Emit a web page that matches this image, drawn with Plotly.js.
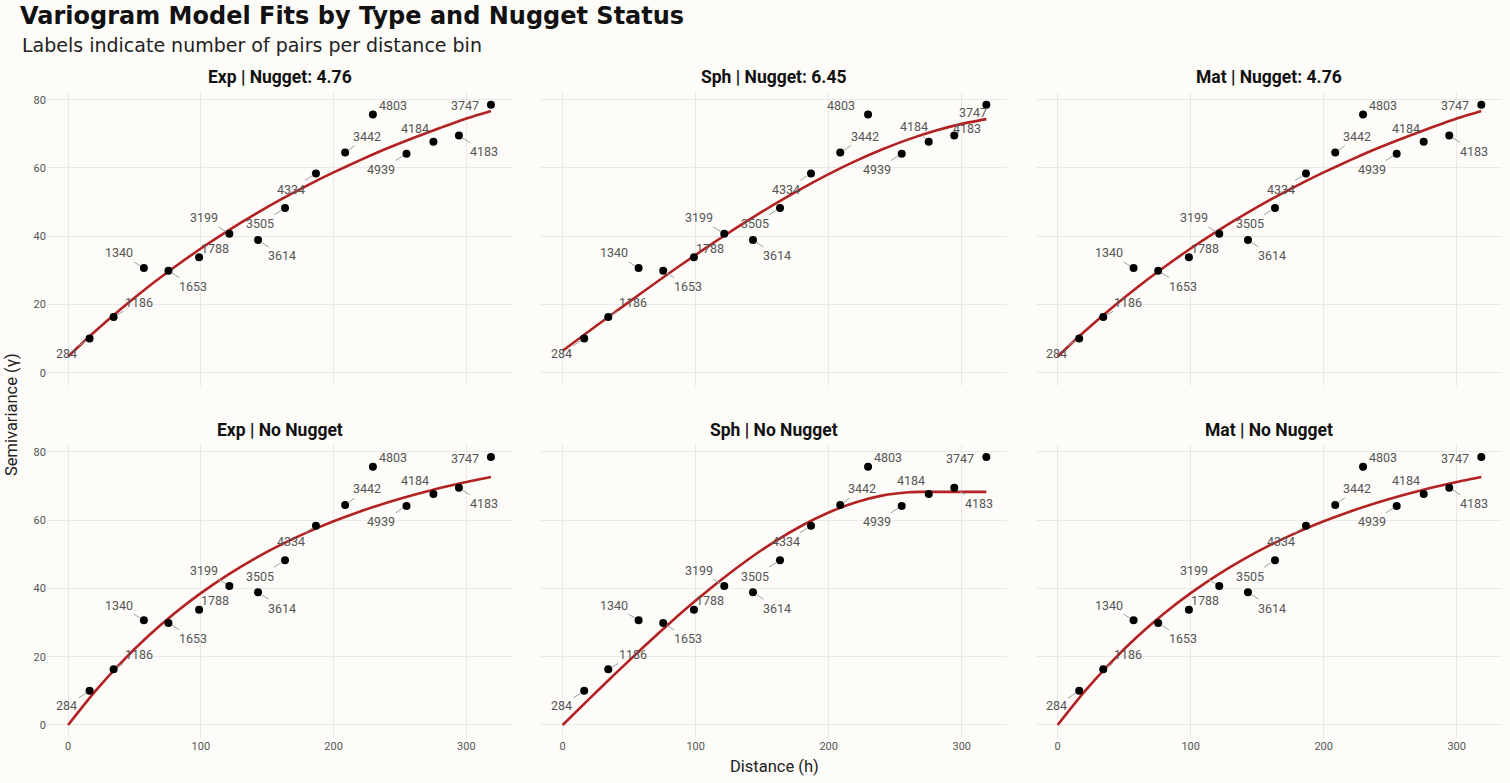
<!DOCTYPE html>
<html>
<head>
<meta charset="utf-8">
<script src="https://cdn.plot.ly/plotly-3.0.1.min.js"></script>
<style>
  html, body { margin: 0; padding: 0; background: #fdfcf9; }
  #chart { width: 1510px; height: 783px; }
</style>
</head>
<body>
<div id="chart"></div>
<script>
// ---- Empirical variogram (same in every panel) ----
const distance = [16.2, 34.3, 57.1, 75.6, 98.7, 121.5, 143.1, 163.4, 186.7, 208.7, 229.6, 254.9, 275.2, 294.4, 318.5];
const gamma    = [10.0, 16.3, 30.7, 29.9, 33.8, 40.7, 38.9, 48.3, 58.4, 64.5, 75.7, 64.2, 67.7, 69.5, 78.5];
const nPairs   = [284, 1186, 1340, 1653, 1788, 3199, 3614, 3505, 4334, 3442, 4803, 4939, 4184, 4183, 3747];

// ---- Fitted model curves ----
const fitH        = [0, 20, 40, 60, 80, 100, 120, 140, 160, 180, 200, 220, 240, 260, 280, 300, 318.5];
const expNugget   = [4.76, 12.0, 18.75, 25.05, 30.9, 36.4, 41.5, 46.25, 50.7, 54.85, 58.7, 62.3, 65.7, 68.8, 71.7, 74.5, 76.7];
const sphNugget   = [6.45, 12.21, 17.94, 23.59, 29.14, 34.54, 39.77, 44.78, 49.55, 54.03, 58.18, 61.99, 65.40, 68.38, 70.90, 72.92, 74.32];
const matNugget   = [4.76, 12.0, 18.75, 25.05, 30.9, 36.4, 41.5, 46.25, 50.7, 54.85, 58.7, 62.3, 65.7, 68.8, 71.7, 74.5, 76.7];
const expNoNugget = [0, 9.71, 18.30, 25.91, 32.66, 38.63, 43.93, 48.62, 52.77, 56.45, 59.70, 62.59, 65.15, 67.41, 69.42, 71.20, 72.67];
const sphH        = [0, 20, 40, 60, 80, 100, 120, 140, 160, 180, 200, 220, 240, 260, 268, 280, 300, 318.5];
const sphNoNugget = [0, 7.63, 15.18, 22.55, 29.67, 36.45, 42.81, 48.65, 53.90, 58.46, 62.26, 65.21, 67.22, 68.21, 68.3, 68.3, 68.3, 68.3];
const matNoNugget = [0, 9.71, 18.30, 25.91, 32.66, 38.63, 43.93, 48.62, 52.77, 56.45, 59.70, 62.59, 65.15, 67.41, 69.42, 71.20, 72.67];

const panelTitles = ["Exp | Nugget: 4.76", "Sph | Nugget: 6.45", "Mat | Nugget: 4.76",
                     "Exp | No Nugget", "Sph | No Nugget", "Mat | No Nugget"];
const panelCurvesX = [fitH, fitH, fitH, fitH, sphH, fitH];
const panelCurvesY = [expNugget, sphNugget, matNugget, expNoNugget, sphNoNugget, matNoNugget];

// ---- label placement (pixels, layout only) ----
const stdOffsets = {284:[-23,15],1186:[25,-15],1340:[-25,-15],1653:[25,16],1788:[16,-9],3199:[-25,-16],
  3614:[24,16],3505:[-25,16],4334:[-25,16],3442:[22,-16],4803:[20,-9],4939:[-25,16],4184:[-18,-13],4183:[25,16],3747:[-26,1]};
const sphNugOverride = {4803:[-27,-9],3747:[-13,8],4184:[-15,-15],4183:[13,-7],3442:[25,-16]};

const colDomains = [[0.0311, 0.3391], [0.3586, 0.6672], [0.6864, 0.9950]];
const rowDomains = [[0.5070, 0.8831], [0.0571, 0.4332]];
const bg = '#fdfcf9';
const grid = '#e9e9e9';

const traces = [];
const annotations = [];
const layout = {
  width: 1510, height: 783,
  paper_bgcolor: bg, plot_bgcolor: bg,
  margin: {l: 0, r: 0, t: 0, b: 0},
  showlegend: false,
  font: {family: 'Roboto, "Liberation Sans", sans-serif', color: '#555'},
  title: {
    text: '<b>Variogram Model Fits by Type and Nugget Status</b>',
    x: 20/1510, xanchor: 'left', xref: 'paper',
    y: 1 - 16/783, yanchor: 'middle', yref: 'paper',
    font: {family: '"DejaVu Sans", sans-serif', size: 24, color: '#111'}
  }
};

for (let p = 0; p < 6; p++) {
  const row = Math.floor(p / 3), col = p % 3;
  const idx = p + 1;
  const xa = idx === 1 ? 'x' : 'x' + idx;
  const ya = idx === 1 ? 'y' : 'y' + idx;
  const xKey = idx === 1 ? 'xaxis' : 'xaxis' + idx;
  const yKey = idx === 1 ? 'yaxis' : 'yaxis' + idx;
  layout[xKey] = {
    domain: colDomains[col], anchor: ya, range: [-15.9, 334.4],
    tickvals: [0, 100, 200, 300], showticklabels: row === 1,
    showgrid: true, gridcolor: grid, gridwidth: 1, zeroline: false, showline: false, ticks: '',
    tickfont: {size: 11, color: '#555'}
  };
  layout[yKey] = {
    domain: rowDomains[row], anchor: xa, range: [-3.9, 82.4],
    tickvals: [0, 20, 40, 60, 80], showticklabels: col === 0,
    showgrid: true, gridcolor: grid, gridwidth: 1, zeroline: false, showline: false, ticks: '',
    tickfont: {size: 11, color: '#555'}
  };
  traces.push({
    type: 'scatter', mode: 'lines', x: panelCurvesX[p], y: panelCurvesY[p],
    xaxis: xa, yaxis: ya, line: {color: '#b22222', width: 2.6, shape: 'spline', smoothing: 0.6},
    hoverinfo: 'skip'
  });
  traces.push({
    type: 'scatter', mode: 'markers', x: distance, y: gamma,
    xaxis: xa, yaxis: ya, marker: {color: '#000', size: 8}
  });
  // facet title
  annotations.push({
    xref: 'paper', yref: 'paper', x: (colDomains[col][0] + colDomains[col][1]) / 2,
    y: row === 0 ? 1 - 77/783 : 1 - 430/783, xanchor: 'center', yanchor: 'middle',
    text: '<b>' + panelTitles[p] + '</b>', showarrow: false,
    font: {family: 'Roboto, sans-serif', size: 17.5, color: '#111'}
  });
  // point labels
  for (let i = 0; i < nPairs.length; i++) {
    let off = stdOffsets[nPairs[i]];
    if (p === 1 && sphNugOverride[nPairs[i]]) off = sphNugOverride[nPairs[i]];
    const showSeg = Math.abs(off[1]) >= 14;
    annotations.push({
      xref: xa, yref: ya, x: distance[i], y: gamma[i],
      text: String(nPairs[i]), showarrow: true, arrowhead: 0, arrowwidth: 1,
      arrowcolor: showSeg ? '#a0a0a0' : 'rgba(0,0,0,0)', standoff: 4,
      ax: off[0], ay: off[1],
      font: {family: 'Roboto, "Liberation Sans", sans-serif', size: 12.5, color: '#555'}
    });
  }
}

// subtitle and axis titles
annotations.push({
  xref: 'paper', yref: 'paper', x: 20/1510, y: 1 - 45/783, xanchor: 'left', yanchor: 'middle',
  text: 'Labels indicate number of pairs per distance bin', showarrow: false,
  font: {family: '"DejaVu Sans", sans-serif', size: 19, color: '#222'}
});
annotations.push({
  xref: 'paper', yref: 'paper', x: 775/1510, y: 1 - 766/783, xanchor: 'center', yanchor: 'middle',
  text: 'Distance (h)', showarrow: false,
  font: {family: 'Roboto, sans-serif', size: 16.5, color: '#222'}
});
annotations.push({
  xref: 'paper', yref: 'paper', x: 12/1510, y: 1 - 415/783, xanchor: 'center', yanchor: 'middle',
  text: 'Semivariance (γ)', showarrow: false, textangle: -90,
  font: {family: 'Roboto, sans-serif', size: 16.5, color: '#222'}
});
layout.annotations = annotations;

Plotly.newPlot('chart', traces, layout, {displayModeBar: false, staticPlot: true});
</script>
</body>
</html>
